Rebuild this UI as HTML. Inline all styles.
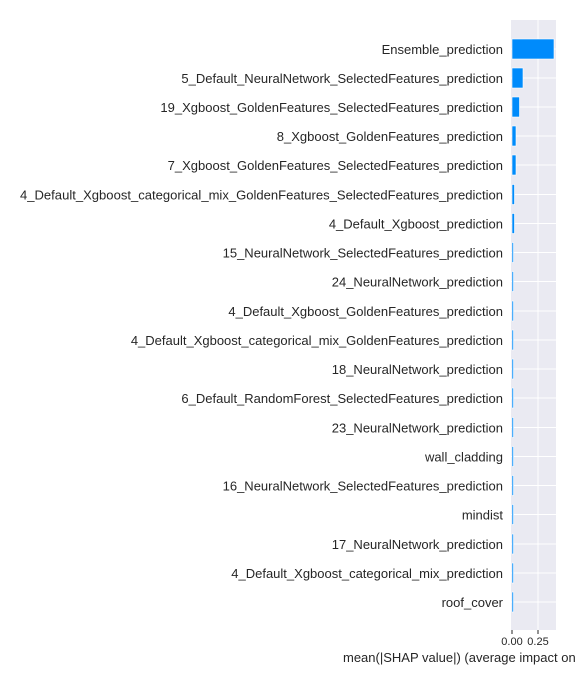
<!DOCTYPE html>
<html><head><meta charset="utf-8"><style>
html,body{margin:0;padding:0;background:#fff;}
svg{display:block;}
text{font-family:"Liberation Sans",Arial,sans-serif;fill:#262626;}
</style></head><body>
<svg width="576" height="684" viewBox="0 0 576 684" xmlns="http://www.w3.org/2000/svg">
<rect x="511" y="20" width="45" height="610" fill="#EAEAF2"/>
<line x1="538" y1="20" x2="538" y2="630" stroke="#fff" stroke-width="1"/>
<g stroke="#fff" stroke-width="1">
<line x1="511" x2="556" y1="49" y2="49"/><line x1="511" x2="556" y1="78" y2="78"/><line x1="511" x2="556" y1="107" y2="107"/><line x1="511" x2="556" y1="136" y2="136"/><line x1="511" x2="556" y1="165" y2="165"/><line x1="511" x2="556" y1="194.5" y2="194.5"/><line x1="511" x2="556" y1="223.5" y2="223.5"/><line x1="511" x2="556" y1="252.5" y2="252.5"/><line x1="511" x2="556" y1="281.5" y2="281.5"/><line x1="511" x2="556" y1="311" y2="311"/><line x1="511" x2="556" y1="340" y2="340"/><line x1="511" x2="556" y1="369" y2="369"/><line x1="511" x2="556" y1="398" y2="398"/><line x1="511" x2="556" y1="427.5" y2="427.5"/><line x1="511" x2="556" y1="456.5" y2="456.5"/><line x1="511" x2="556" y1="485.5" y2="485.5"/><line x1="511" x2="556" y1="514.5" y2="514.5"/><line x1="511" x2="556" y1="544" y2="544"/><line x1="511" x2="556" y1="573" y2="573"/><line x1="511" x2="556" y1="602" y2="602"/>
</g>
<g fill="#008BFB" stroke="#fff" stroke-width="0.6">
<rect x="512" y="39" width="42" height="20"/>
<rect x="512" y="68" width="11" height="20"/>
<rect x="512" y="97" width="7.5" height="20"/>
<rect x="512" y="126" width="4" height="20"/>
<rect x="512" y="155" width="4" height="20"/>
<rect x="512" y="184.5" width="2.5" height="20"/>
<rect x="512" y="213.5" width="2.5" height="20"/>
<rect x="512" y="242.5" width="1.5" height="20"/>
<rect x="512" y="271.5" width="1.5" height="20"/>
<rect x="512" y="301" width="1.5" height="20"/>
<rect x="512" y="330" width="1.5" height="20"/>
<rect x="512" y="359" width="1.5" height="20"/>
<rect x="512" y="388" width="1.5" height="20"/>
<rect x="512" y="417.5" width="1.5" height="20"/>
<rect x="512" y="446.5" width="1.5" height="20"/>
<rect x="512" y="475.5" width="1.5" height="20"/>
<rect x="512" y="504.5" width="1.5" height="20"/>
<rect x="512" y="534" width="1.5" height="20"/>
<rect x="512" y="563" width="1.5" height="20"/>
<rect x="512" y="592" width="1.5" height="20"/>
</g>
<g font-size="13" text-anchor="end">
<text x="503" y="54">Ensemble_prediction</text>
<text x="503" y="83">5_Default_NeuralNetwork_SelectedFeatures_prediction</text>
<text x="503" y="112">19_Xgboost_GoldenFeatures_SelectedFeatures_prediction</text>
<text x="503" y="141">8_Xgboost_GoldenFeatures_prediction</text>
<text x="503" y="170">7_Xgboost_GoldenFeatures_SelectedFeatures_prediction</text>
<text x="503" y="199.5" textLength="483" lengthAdjust="spacingAndGlyphs">4_Default_Xgboost_categorical_mix_GoldenFeatures_SelectedFeatures_prediction</text>
<text x="503" y="228.5">4_Default_Xgboost_prediction</text>
<text x="503" y="257.5">15_NeuralNetwork_SelectedFeatures_prediction</text>
<text x="503" y="286.5">24_NeuralNetwork_prediction</text>
<text x="503" y="316">4_Default_Xgboost_GoldenFeatures_prediction</text>
<text x="503" y="345">4_Default_Xgboost_categorical_mix_GoldenFeatures_prediction</text>
<text x="503" y="374">18_NeuralNetwork_prediction</text>
<text x="503" y="403">6_Default_RandomForest_SelectedFeatures_prediction</text>
<text x="503" y="432.5">23_NeuralNetwork_prediction</text>
<text x="503" y="461.5">wall_cladding</text>
<text x="503" y="490.5">16_NeuralNetwork_SelectedFeatures_prediction</text>
<text x="503" y="519.5">mindist</text>
<text x="503" y="549">17_NeuralNetwork_prediction</text>
<text x="503" y="578">4_Default_Xgboost_categorical_mix_prediction</text>
<text x="503" y="607">roof_cover</text>
</g>
<line x1="512" y1="630" x2="512" y2="634" stroke="#262626"/>
<line x1="538" y1="630" x2="538" y2="634" stroke="#262626"/>
<text x="512" y="645" font-size="11" text-anchor="middle">0.00</text>
<text x="538" y="645" font-size="11" text-anchor="middle">0.25</text>
<text x="343" y="662" font-size="13">mean(|SHAP value|) (average impact on model output magnitude)</text>
</svg>
</body></html>
